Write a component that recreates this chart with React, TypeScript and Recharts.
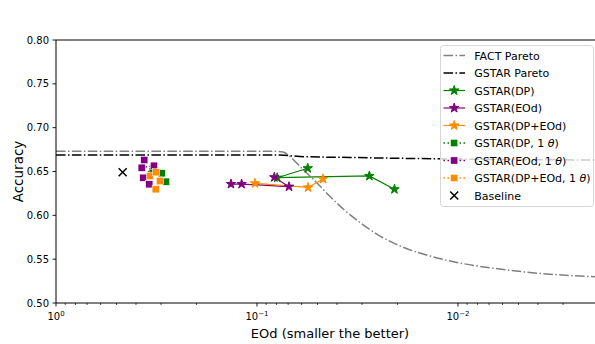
import React from 'react';
import { LineChart, Line, XAxis, YAxis, ReferenceLine, Legend, Label } from 'recharts';

// ---------- data ----------
const factParetoX = [1, 0.1, 0.0814, 0.0742, 0.0685, 0.0611, 0.0514, 0.0433, 0.0365, 0.0307, 0.0244, 0.0194, 0.01378, 0.00977, 0.00655, 0.00438, 0.00201];
const factParetoY = [0.673, 0.673, 0.673, 0.6722, 0.6671, 0.6557, 0.6392, 0.6215, 0.6055, 0.5918, 0.5764, 0.565, 0.5536, 0.5456, 0.5394, 0.5348, 0.5297];

const gstarParetoX = [1, 0.0768, 0.0611, 0.0345, 0.01096, 0.00201];
const gstarParetoY = [0.6688, 0.6688, 0.6671, 0.666, 0.6643, 0.6631];

const dpX = [0.0559, 0.0793, 0.0276, 0.0207];
const dpY = [0.6537, 0.6429, 0.6449, 0.6297];

const eodX = [0.1347, 0.1192, 0.0693, 0.082];
const eodY = [0.6357, 0.6357, 0.6327, 0.6434];

const dpEodX = [0.1023, 0.0557, 0.0469];
const dpEodY = [0.6365, 0.6318, 0.6415];

const dp1X = [0.3303, 0.2979, 0.2836];
const dp1Y = [0.6506, 0.648, 0.6384];

const eod1X = [0.3637, 0.3747, 0.3254, 0.3679, 0.3434];
const eod1Y = [0.6631, 0.6543, 0.6566, 0.6429, 0.6354];

const dpEod1X = [0.3405, 0.318, 0.3039, 0.3191];
const dpEod1Y = [0.6449, 0.6491, 0.6392, 0.6297];

const baselineX = [0.4658];
const baselineY = [0.6491];

const xMajorTicks = [1, 0.1, 0.01];
const xMinorTicks = [0.9, 0.8, 0.7, 0.6, 0.5, 0.4, 0.3, 0.2, 0.09, 0.08, 0.07, 0.06, 0.05, 0.04, 0.03, 0.02, 0.009, 0.008, 0.007, 0.006, 0.005, 0.004, 0.003];
const yTicks = [0.5, 0.55, 0.6, 0.65, 0.7, 0.75, 0.8];

const legendLabels = [
  'FACT Pareto',
  'GSTAR Pareto',
  'GSTAR(DP)',
  'GSTAR(EOd)',
  'GSTAR(DP+EOd)',
  'GSTAR(DP, 1 θ)',
  'GSTAR(EOd, 1 θ)',
  'GSTAR(DP+EOd, 1 θ)',
  'Baseline',
];

// ---------- helpers ----------
const zip = (xs: number[], ys: number[]) => xs.map((x, i) => ({ x, y: ys[i] }));

const FONT = '"DejaVu Sans", sans-serif';
const GREEN = '#008000';
const PURPLE = '#800080';
const ORANGE = '#ff8c00';
const GRAY = '#808080';
const DASHDOT = '9.6 2.4 1.5 2.4';
const DOTTED = '1.5 2.5';
const X_MIN = 0.00201;

function starPath(cx: number, cy: number, R: number) {
  const r = R * 0.381966;
  let d = '';
  for (let i = 0; i < 10; i++) {
    const a = -Math.PI / 2 + (i * Math.PI) / 5;
    const rr = i % 2 === 0 ? R : r;
    d += (i === 0 ? 'M' : 'L') + (cx + rr * Math.cos(a)).toFixed(2) + ',' + (cy + rr * Math.sin(a)).toFixed(2);
  }
  return d + 'Z';
}

const StarMark = ({ cx, cy, color }: { cx: number; cy: number; color: string }) => (
  <path d={starPath(cx, cy, 5)} fill={color} stroke={color} strokeWidth={1} strokeLinejoin="miter" />
);

const SquareMark = ({ cx, cy, color }: { cx: number; cy: number; color: string }) => (
  <rect x={cx - 3.6} y={cy - 3.6} width={7.2} height={7.2} fill={color} stroke="#ffffff" strokeWidth={0.5} />
);

const XMark = ({ cx, cy }: { cx: number; cy: number }) => (
  <g stroke="#000" strokeWidth={1.5}>
    <line x1={cx - 4} y1={cy - 4} x2={cx + 4} y2={cy + 4} />
    <line x1={cx - 4} y1={cy + 4} x2={cx + 4} y2={cy - 4} />
  </g>
);

const starDot = (color: string) => (p: any) =>
  p.cx == null ? <g key={'n' + p.index} /> : <StarMark key={'st' + color + p.index} cx={p.cx} cy={p.cy} color={color} />;
const squareDot = (color: string) => (p: any) =>
  p.cx == null ? <g key={'n' + p.index} /> : <SquareMark key={'sq' + color + p.index} cx={p.cx} cy={p.cy} color={color} />;
const xDot = (p: any) => (p.cx == null ? <g key={'n' + p.index} /> : <XMark key={'x' + p.index} cx={p.cx} cy={p.cy} />);

const XTick = (props: any) => {
  const { x, y, payload } = props;
  const v = payload.value as number;
  const major = xMajorTicks.some((m) => Math.abs(m - v) < 1e-12);
  const exp = Math.round(Math.log10(v));
  return (
    <g>
      <line x1={x} x2={x} y1={y} y2={y + (major ? 3.5 : 2)} stroke="#000" strokeWidth={major ? 0.9 : 0.7} />
      {major && (
        <text x={x} y={y + 17} textAnchor="middle" fontSize={10} fontFamily={FONT} fill="#000">
          10
          <tspan dy={-4.5} fontSize={7}>
            {exp === 0 ? '0' : '\u2212' + String(-exp)}
          </tspan>
        </text>
      )}
    </g>
  );
};

const LegendBox = () => {
  const rowY = (i: number) => 10.5 + i * 17.5;
  const hx1 = 3.5;
  const hx2 = 25;
  const mx = 14.2;
  const tx = 34.3;
  const rows: React.ReactNode[] = [];
  legendLabels.forEach((lab, i) => {
    const y = rowY(i);
    let handle: React.ReactNode = null;
    if (i === 0) handle = <line x1={hx1} x2={hx2} y1={y} y2={y} stroke={GRAY} strokeWidth={1.5} strokeDasharray={DASHDOT} />;
    else if (i === 1) handle = <line x1={hx1} x2={hx2} y1={y} y2={y} stroke="#000" strokeWidth={1.5} strokeDasharray={DASHDOT} />;
    else if (i >= 2 && i <= 4) {
      const c = [GREEN, PURPLE, ORANGE][i - 2];
      handle = (
        <g>
          <line x1={hx1} x2={hx2} y1={y} y2={y} stroke={c} strokeWidth={1.2} />
          <StarMark cx={mx} cy={y} color={c} />
        </g>
      );
    } else if (i >= 5 && i <= 7) {
      const c = [GREEN, PURPLE, ORANGE][i - 5];
      handle = (
        <g>
          <line x1={hx1} x2={hx2} y1={y} y2={y} stroke={c} strokeWidth={1.5} strokeDasharray={DOTTED} />
          <SquareMark cx={mx} cy={y} color={c} />
        </g>
      );
    } else {
      handle = <XMark cx={mx} cy={y} />;
    }
    const hasTheta = lab.includes('θ');
    const parts = hasTheta ? lab.split('θ') : [lab];
    rows.push(
      <g key={'lg' + i}>
        {handle}
        <text x={tx} y={y + 4} fontSize={11} fontFamily={FONT} fill="#000">
          {hasTheta ? (
            <>
              {parts[0]}
              <tspan fontStyle="italic">θ</tspan>
              {parts[1]}
            </>
          ) : (
            lab
          )}
        </text>
      </g>
    );
  });
  return (
    <svg width={156} height={163} style={{ display: 'block' }}>
      <rect x={0.5} y={0.5} width={153} height={161} rx={3} ry={3} fill="rgba(255,255,255,0.8)" stroke="#d6d6d6" strokeWidth={1} />
      {rows}
    </svg>
  );
};

export default function App() {
  return (
    <div style={{ position: 'absolute', left: 0, top: 0, width: 595, height: 344, overflow: 'hidden', background: '#fff' }}>
      <LineChart width={598} height={344} margin={{ top: 40, right: 0, bottom: 0, left: 0 }}>
        <XAxis
          type="number"
          dataKey="x"
          scale="log"
          domain={[X_MIN, 1]}
          reversed
          allowDataOverflow
          ticks={[...xMajorTicks, ...xMinorTicks]}
          interval={0}
          tick={<XTick />}
          tickLine={false}
          tickSize={0}
          tickMargin={0}
          height={41}
          axisLine={{ stroke: '#000', strokeWidth: 1 }}
        >
          <Label
            content={() => (
              <text x={330} y={338} textAnchor="middle" fontSize={13} fontFamily={FONT} fill="#000">
                EOd (smaller the better)
              </text>
            )}
          />
        </XAxis>
        <YAxis
          type="number"
          domain={[0.5, 0.8]}
          ticks={yTicks}
          interval={0}
          width={56}
          tickSize={3.5}
          tickMargin={3.5}
          tickFormatter={(v: number) => v.toFixed(2)}
          tick={{ fontSize: 10, fontFamily: FONT, fill: '#000' }}
          tickLine={{ stroke: '#000', strokeWidth: 0.9 }}
          axisLine={{ stroke: '#000', strokeWidth: 1 }}
          allowDataOverflow
        >
          <Label
            content={() => (
              <text
                x={18}
                y={171.5}
                transform="rotate(-90 18 171.5)"
                textAnchor="middle"
                dominantBaseline="central"
                fontSize={13.5}
                fontFamily={FONT}
                fill="#000"
              >
                Accuracy
              </text>
            )}
          />
        </YAxis>
        <ReferenceLine y={0.8} stroke="#000" strokeWidth={1} />

        <Line data={zip(factParetoX, factParetoY)} dataKey="y" type="monotone" stroke={GRAY} strokeWidth={1.5} strokeDasharray={DASHDOT} dot={false} activeDot={false} isAnimationActive={false} />
        <Line data={zip(gstarParetoX, gstarParetoY)} dataKey="y" type="monotone" stroke="#000" strokeWidth={1.5} strokeDasharray={DASHDOT} dot={false} activeDot={false} isAnimationActive={false} />

        <Line data={zip(dpX, dpY)} dataKey="y" type="linear" stroke={GREEN} strokeWidth={1.2} dot={starDot(GREEN)} activeDot={false} isAnimationActive={false} />
        <Line data={zip(eodX, eodY)} dataKey="y" type="linear" stroke={PURPLE} strokeWidth={1.2} dot={starDot(PURPLE)} activeDot={false} isAnimationActive={false} />
        <Line data={zip(dpEodX, dpEodY)} dataKey="y" type="linear" stroke={ORANGE} strokeWidth={1.2} dot={starDot(ORANGE)} activeDot={false} isAnimationActive={false} />

        <Line data={zip(dp1X, dp1Y)} dataKey="y" type="linear" stroke={GREEN} strokeWidth={1.5} strokeDasharray={DOTTED} dot={squareDot(GREEN)} activeDot={false} isAnimationActive={false} />
        <Line data={zip(eod1X, eod1Y)} dataKey="y" type="linear" stroke={PURPLE} strokeWidth={1.5} strokeDasharray={DOTTED} dot={squareDot(PURPLE)} activeDot={false} isAnimationActive={false} />
        <Line data={zip(dpEod1X, dpEod1Y)} dataKey="y" type="linear" stroke={ORANGE} strokeWidth={1.5} strokeDasharray={DOTTED} dot={squareDot(ORANGE)} activeDot={false} isAnimationActive={false} />

        <Line data={zip(baselineX, baselineY)} dataKey="y" type="linear" stroke="none" dot={xDot} activeDot={false} isAnimationActive={false} />

        <Legend
          layout="vertical"
          align="center"
          verticalAlign="middle"
          wrapperStyle={{ left: 440, top: 44.5, width: 156, height: 163 }}
          content={() => <LegendBox />}
        />
      </LineChart>
    </div>
  );
}
